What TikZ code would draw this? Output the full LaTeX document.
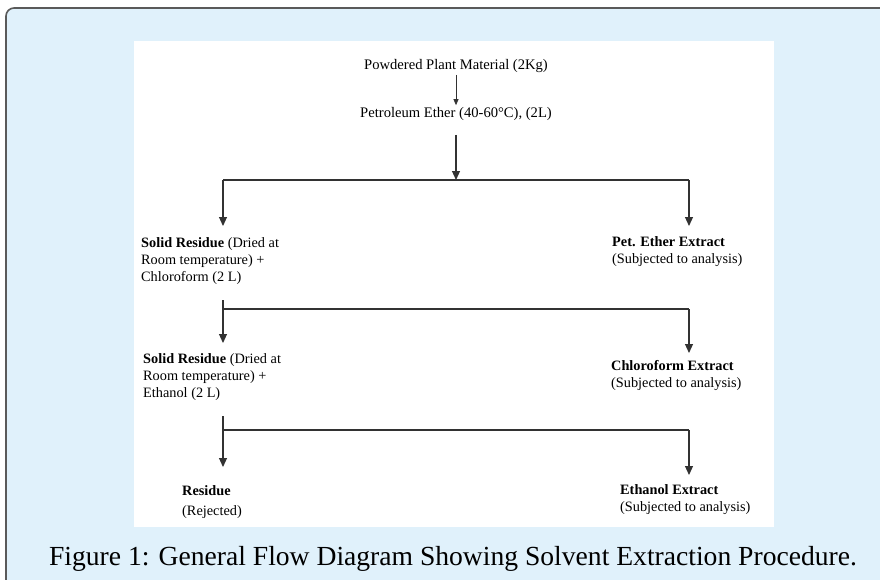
\documentclass[tikz,border=0pt]{standalone}
\usepackage{fontspec}
\setmainfont{Liberation Serif}
\usepackage{xcolor}
\usetikzlibrary{arrows.meta, positioning, calc}
\definecolor{paneBlue}{RGB}{224,241,251}
\definecolor{frameGray}{RGB}{90,90,90}
\definecolor{lineGray}{RGB}{50,50,50}
\tikzstyle{stage}  = [inner sep=0pt, align=left, anchor=north west,
                       font=\fontsize{14.3}{17}\selectfont]
\tikzstyle{arrow}  = [-{Triangle[length=9pt,width=8pt]}, line width=1.1pt, lineGray]

\begin{document}
\begin{tikzpicture}[x=1pt, y=-1pt,
  feed/.style={inner sep=2pt, font=\fontsize{14.6}{17}\selectfont},
  link/.style={line width=1.1pt, lineGray},
  small arrow/.style={-{Triangle[length=6pt,width=5pt]}, line width=0.8pt, lineGray},
  caption/.style={font=\fontsize{27.6}{32}\selectfont}
]
  \clip (0,0) rectangle (880,579);
  % Frame and white panel
  \draw[fill=paneBlue, draw=frameGray, line width=1.6pt, rounded corners=8pt] (6,8) rectangle (900,600);
  \fill[white] (134,41) rectangle (774,527);

  % Starting material
  \node[feed] (powder) at (456,66) {Powdered Plant Material (2Kg)};
  \node[feed] (petether) at (456,114) {Petroleum Ether (40-60°C), (2L)};
  \draw[small arrow, shorten <=0pt, shorten >=0pt] (powder) -- (petether);

  % First split
  \coordinate (j1) at (456,180);
  \coordinate (l1) at (223,180);
  \coordinate (r1) at (689,180);
  \node[stage] (solid1) at (141,237) {\textbf{Solid Residue} (Dried at\\Room temperature) +\\Chloroform (2 L)};
  \node[stage] (petext) at (612,236) {\textbf{Pet. Ether Extract}\\(Subjected to analysis)};
  \draw[arrow, shorten <=12pt] (petether) -- (j1);
  \draw[link] (l1) -- (r1);
  \draw[arrow] (l1) -- ++(0,46);
  \draw[arrow] (r1) -- ++(0,46);

  % Second split
  \coordinate (s2) at (223,300);
  \coordinate (l2) at (223,309);
  \coordinate (r2) at (689,309);
  \node[stage] (solid2) at (143,353) {\textbf{Solid Residue} (Dried at\\Room temperature) +\\Ethanol (2 L)};
  \node[stage] (chlext) at (611,360) {\textbf{Chloroform Extract}\\(Subjected to analysis)};
  \draw[arrow] (s2) -- ++(0,43);
  \draw[link] (l2) -- (r2);
  \draw[arrow] (r2) -- ++(0,44);

  % Third split
  \coordinate (s3) at (223,416);
  \coordinate (l3) at (223,430);
  \coordinate (r3) at (689,430);
  \node[stage] (residue) at (182,485) {\textbf{Residue}\\[3pt](Rejected)};
  \node[stage] (ethext) at (620,484) {\textbf{Ethanol Extract}\\(Subjected to analysis)};
  \draw[arrow] (s3) -- ++(0,51);
  \draw[link] (l3) -- (r3);
  \draw[arrow] (r3) -- ++(0,45);

  % Caption
  \node[caption] (cap) at (453,559) {Figure 1: General Flow Diagram Showing Solvent Extraction Procedure.};
\end{tikzpicture}
\end{document}
